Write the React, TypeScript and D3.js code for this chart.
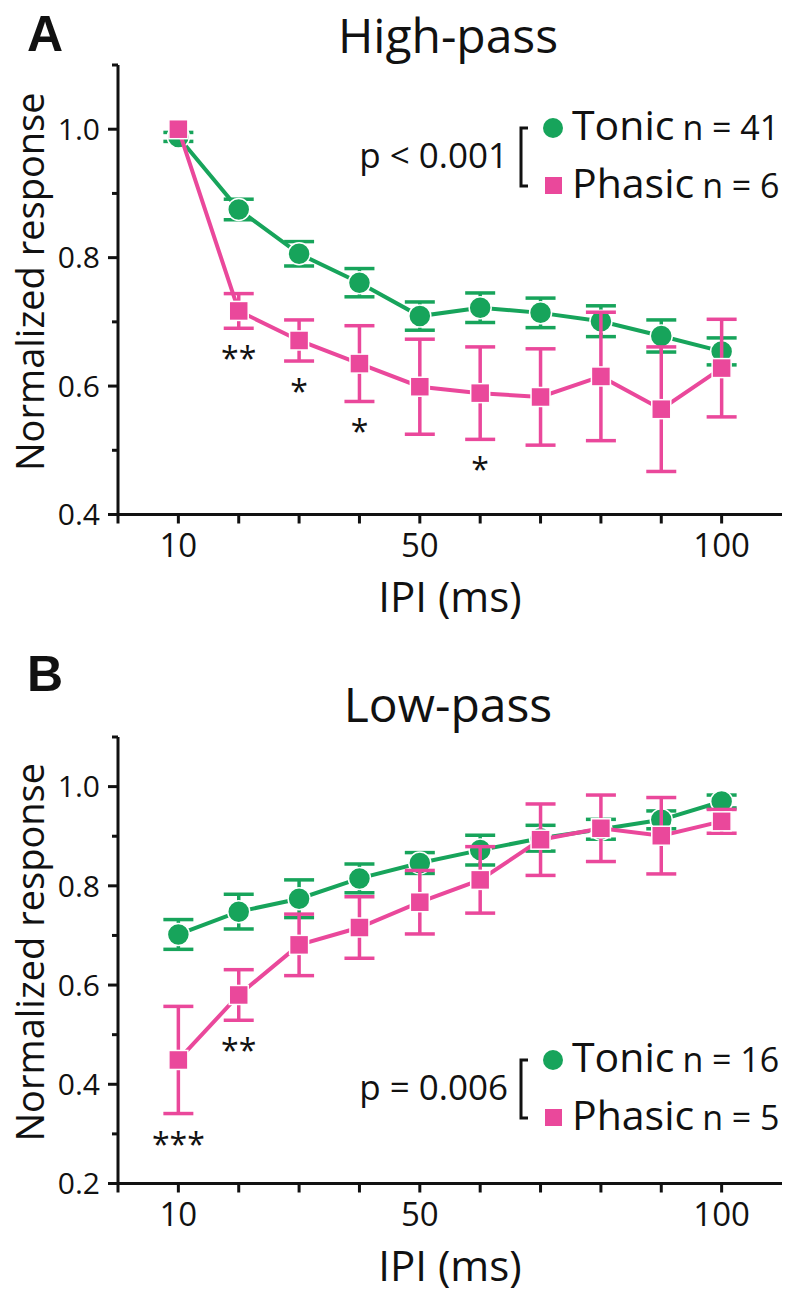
import * as d3 from 'd3';

// IPI values (ms)
const ipi = [10, 20, 30, 40, 50, 60, 70, 80, 90, 100];
const xTicks = [0, 10, 20, 30, 40, 50, 60, 70, 80, 90, 100];
const xLabels = [10, 50, 100];

// A: high-pass
const hpTonicMean = [0.988, 0.875, 0.806, 0.761, 0.709, 0.722, 0.714, 0.701, 0.678, 0.654];
const hpTonicSem = [0.007, 0.016, 0.019, 0.022, 0.022, 0.023, 0.023, 0.024, 0.025, 0.021];
const hpPhasicMean = [1.0, 0.717, 0.671, 0.635, 0.599, 0.589, 0.583, 0.615, 0.564, 0.628];
const hpPhasicSem = [0, 0.027, 0.032, 0.059, 0.074, 0.072, 0.075, 0.1, 0.097, 0.076];
const hpStars = ['', '**', '*', '*', '', '*', '', '', '', ''];
const hpYTicks = [0.4, 0.5, 0.6, 0.7, 0.8, 0.9, 1.0, 1.1];
const hpYLabels = [0.4, 0.6, 0.8, 1.0];

// B: low-pass
const lpTonicMean = [0.702, 0.748, 0.774, 0.815, 0.846, 0.872, 0.896, 0.914, 0.933, 0.97];
const lpTonicSem = [0.03, 0.035, 0.038, 0.029, 0.021, 0.03, 0.026, 0.02, 0.018, 0.013];
const lpPhasicMean = [0.449, 0.58, 0.681, 0.716, 0.767, 0.812, 0.893, 0.916, 0.901, 0.93];
const lpPhasicSem = [0.108, 0.051, 0.062, 0.062, 0.064, 0.067, 0.072, 0.067, 0.077, 0.024];
const lpStars = ['***', '**', '', '', '', '', '', '', '', ''];
const lpYTicks = [0.2, 0.3, 0.4, 0.5, 0.6, 0.7, 0.8, 0.9, 1.0, 1.1];
const lpYLabels = [0.2, 0.4, 0.6, 0.8, 1.0];

const GREEN = '#17a45b';
const PINK = '#ea489b';
const FONT = "'Open Sans', sans-serif";

const x = d3.scaleLinear().domain([0, 110]).range([118, 782]);

type PanelProps = {
  letter: string;
  letterY: number;
  title: string;
  titleY: number;
  yDomain: [number, number];
  yRange: [number, number];
  yTicks: number[];
  yLabels: number[];
  tonicMean: number[];
  tonicSem: number[];
  phasicMean: number[];
  phasicSem: number[];
  stars: string[];
  pText: string;
  tonicN: string;
  phasicN: string;
  legendY: number;
};

function Series({ y, mean, sem, color, square }: { y: d3.ScaleLinear<number, number>; mean: number[]; sem: number[]; color: string; square: boolean }) {
  const pts = ipi.map((v, i) => [x(v), y(mean[i])] as [number, number]);
  const line = d3.line()(pts) || '';
  const capW = 15;
  return (
    <g>
      {ipi.map((v, i) => {
        if (!sem[i]) return null;
        const cx = x(v);
        const y1 = y(mean[i] + sem[i]);
        const y2 = y(mean[i] - sem[i]);
        return (
          <g key={v} stroke={color} strokeWidth={3.5}>
            <line x1={cx} x2={cx} y1={y1} y2={y2} />
            <line x1={cx - capW} x2={cx + capW} y1={y1} y2={y1} />
            <line x1={cx - capW} x2={cx + capW} y1={y2} y2={y2} />
          </g>
        );
      })}
      <path d={line} fill="none" stroke={color} strokeWidth={4} />
      {pts.map(([px, py], i) =>
        square ? (
          <rect key={i} x={px - 9.5} y={py - 9.5} width={19} height={19} fill={color} stroke="#fff" strokeWidth={1.5} />
        ) : (
          <circle key={i} cx={px} cy={py} r={11} fill={color} stroke="#fff" strokeWidth={1.5} />
        )
      )}
    </g>
  );
}

function Panel(p: PanelProps) {
  const y = d3.scaleLinear().domain(p.yDomain).range(p.yRange);
  const yBottom = p.yRange[0];
  const yTop = p.yRange[1];
  const x0 = x(0);
  const midY = (yBottom + yTop) / 2;
  const ly = p.legendY;
  return (
    <g fontFamily={FONT} fill="#111">
      <text x={27} y={p.letterY} fontFamily="'Liberation Sans', Arial, sans-serif" fontWeight="bold" fontSize={50}>{p.letter}</text>
      <text x={448} y={p.titleY} textAnchor="middle" fontSize={48}>{p.title}</text>

      {/* y axis */}
      <line x1={x0} x2={x0} y1={yTop} y2={yBottom + 1.5} stroke="#111" strokeWidth={3} />
      {p.yTicks.map((t) => {
        const major = p.yLabels.some((l) => Math.abs(l - t) < 1e-6);
        return (
          <line key={t} x1={x0 - (major ? 10 : 6)} x2={x0} y1={y(t)} y2={y(t)} stroke="#111" strokeWidth={3} />
        );
      })}
      {p.yLabels.map((t) => (
        <text key={t} x={100} y={y(t)} dy="0.36em" textAnchor="end" fontSize={30}>{t.toFixed(1)}</text>
      ))}
      <text transform={`translate(44,${midY - 8}) rotate(-90)`} textAnchor="middle" fontSize={38}>Normalized response</text>

      {/* x axis */}
      <line x1={x0 - 1.5} x2={x(110)} y1={yBottom} y2={yBottom} stroke="#111" strokeWidth={3} />
      {xTicks.map((t) => (
        <line key={t} x1={x(t)} x2={x(t)} y1={yBottom} y2={yBottom + 9} stroke="#111" strokeWidth={3} />
      ))}
      {xLabels.map((t) => (
        <text key={t} x={x(t)} y={yBottom + 42} textAnchor="middle" fontSize={33}>{t}</text>
      ))}
      <text x={450} y={yBottom + 97} textAnchor="middle" fontSize={42}>IPI (ms)</text>

      <Series y={y} mean={p.tonicMean} sem={p.tonicSem} color={GREEN} square={false} />
      <Series y={y} mean={p.phasicMean} sem={p.phasicSem} color={PINK} square={true} />

      {/* significance stars */}
      {ipi.map((v, i) =>
        p.stars[i] ? (
          <text key={v} x={x(v)} y={y(p.phasicMean[i] - p.phasicSem[i]) + 42} textAnchor="middle" fontSize={32}>{p.stars[i]}</text>
        ) : null
      )}

      {/* legend */}
      <text x={508} y={ly + 28} textAnchor="end" fontSize={35}>{p.pText}</text>
      <path d={`M528,${ly - 12}H521V${ly + 46}H528`} fill="none" stroke="#111" strokeWidth={3} />
      <circle cx={553} cy={ly - 12} r={10} fill={GREEN} />
      <rect x={545} y={ly + 37} width={17} height={17} fill={PINK} />
      <text x={572} y={ly} fontSize={41}>Tonic<tspan dx={8} fontSize={34}>{p.tonicN}</tspan></text>
      <text x={572} y={ly + 58} fontSize={41}>Phasic<tspan dx={8} fontSize={34}>{p.phasicN}</tspan></text>
    </g>
  );
}

export default function App() {
  return (
    <div style={{ position: 'absolute', left: 0, top: 0 }}>
      <svg width={793} height={1297} style={{ display: 'block', background: '#fff' }}>
        <Panel
          letter="A"
          letterY={51}
          title="High-pass"
          titleY={53}
          yDomain={[0.4, 1.1]}
          yRange={[514.5, 65]}
          yTicks={hpYTicks}
          yLabels={hpYLabels}
          tonicMean={hpTonicMean}
          tonicSem={hpTonicSem}
          phasicMean={hpPhasicMean}
          phasicSem={hpPhasicSem}
          stars={hpStars}
          pText="p < 0.001"
          tonicN="n = 41"
          phasicN="n = 6"
          legendY={140}
        />
        <Panel
          letter="B"
          letterY={691}
          title="Low-pass"
          titleY={722}
          yDomain={[0.2, 1.1]}
          yRange={[1183.5, 737]}
          yTicks={lpYTicks}
          yLabels={lpYLabels}
          tonicMean={lpTonicMean}
          tonicSem={lpTonicSem}
          phasicMean={lpPhasicMean}
          phasicSem={lpPhasicSem}
          stars={lpStars}
          pText="p = 0.006"
          tonicN="n = 16"
          phasicN="n = 5"
          legendY={1072}
        />
      </svg>
    </div>
  );
}
